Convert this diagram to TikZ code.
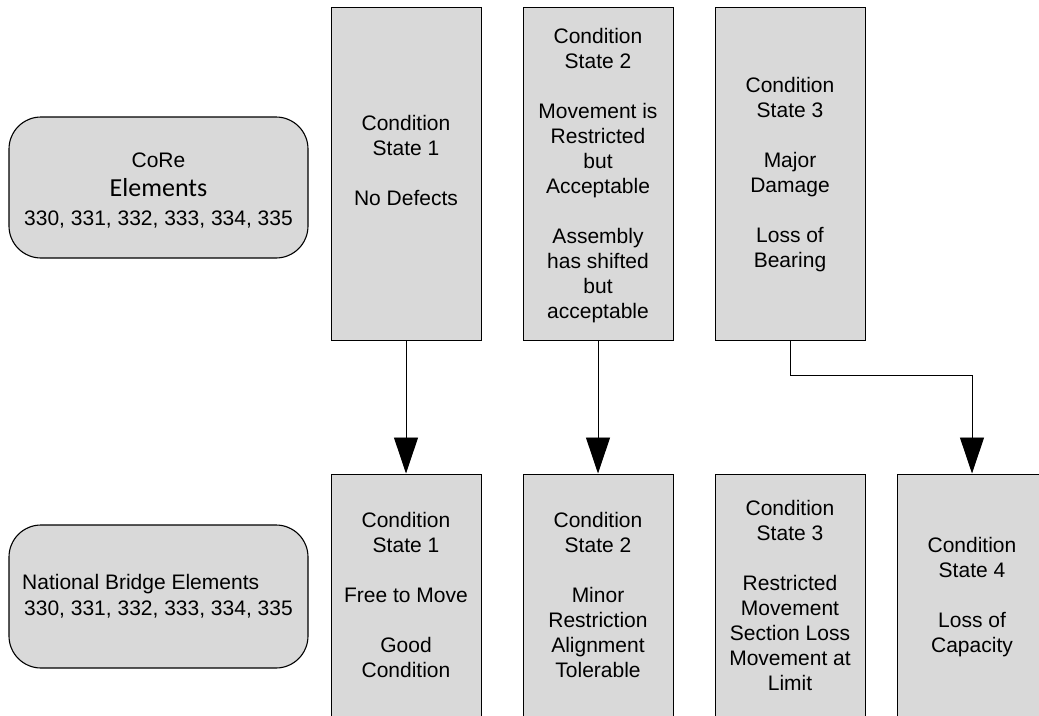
\documentclass[tikz,border=0pt]{standalone}
\usepackage{fontspec}
\setmainfont{Liberation Sans}
\newfontfamily\calibrifont{Carlito}
\usetikzlibrary{arrows.meta}
\definecolor{boxgray}{HTML}{D9D9D9}
\begin{document}
\begin{tikzpicture}[x=1pt,y=-1pt,
  stbox/.style={draw=black, line width=1pt, fill=boxgray, minimum width=150pt, inner sep=0pt},
  grp/.style={draw=black, line width=1.1pt, fill=boxgray, rounded corners=32pt,
              minimum width=299pt, inner sep=0pt},
  txt/.style={align=center, inner sep=0pt, text depth=0pt, font=\fontsize{21}{25}\selectfont},
  flow/.style={draw=black, line width=0.9pt, -{Triangle[width=24pt,length=36pt]}},
]
\clip (0,0) rectangle (1039,715);

% element groups
\node[grp, minimum height=141pt] (core) at (158.5,187.5) {};
\node[grp, minimum height=143pt] (nbe)  at (158.5,596.5) {};
\node[txt, font=\fontsize{21}{29}\selectfont] (coret) at (158.5,189)
  {CoRe\\{\calibrifont\fontsize{26}{29}\selectfont Elements}\\330, 331, 332, 333, 334, 335};
\node[txt, align=left, anchor=west, font=\fontsize{21}{26}\selectfont] (nbet) at (22,595)
  {National Bridge Elements\\\hspace*{2pt}330, 331, 332, 333, 334, 335};

% CoRe condition states
\node[stbox, minimum height=333pt] (c1) at (406,173.5) {};
\node[stbox, minimum height=333pt] (c2) at (598,173.5) {};
\node[stbox, minimum height=333pt] (c3) at (790,173.5) {};
\node[txt] (c1t) at (406,160.5) {Condition\\State 1\\[25pt]No Defects};
\node[txt] (c2t) at (598,173.5) {Condition\\State 2\\[25pt]Movement is\\Restricted\\but\\Acceptable\\[25pt]Assembly\\has shifted\\but\\acceptable};
\node[txt] (c3t) at (790,172.5) {Condition\\State 3\\[25pt]Major\\Damage\\[25pt]Loss of\\Bearing};

% National Bridge Element condition states
\node[stbox, minimum height=242pt] (n1) at (406,595) {};
\node[stbox, minimum height=242pt] (n2) at (598,595) {};
\node[stbox, minimum height=242pt] (n3) at (790,595) {};
\node[stbox, minimum height=242pt] (n4) at (972,595) {};
\node[txt] (n1t) at (406,595) {Condition\\State 1\\[25pt]Free to Move\\[25pt]Good\\Condition};
\node[txt] (n2t) at (598,595) {Condition\\State 2\\[25pt]Minor\\Restriction\\Alignment\\Tolerable};
\node[txt] (n3t) at (790,595.5) {Condition\\State 3\\[25pt]Restricted\\Movement\\Section Loss\\Movement at\\Limit};
\node[txt] (n4t) at (972,595) {Condition\\State 4\\[25pt]Loss of\\Capacity};

% mappings
\draw[flow] (c1) -- (n1);
\draw[flow] (c2) -- (n2);
\draw[flow] (c3.south) -- ++(0,35) -| (n4.north);
\end{tikzpicture}
\end{document}
